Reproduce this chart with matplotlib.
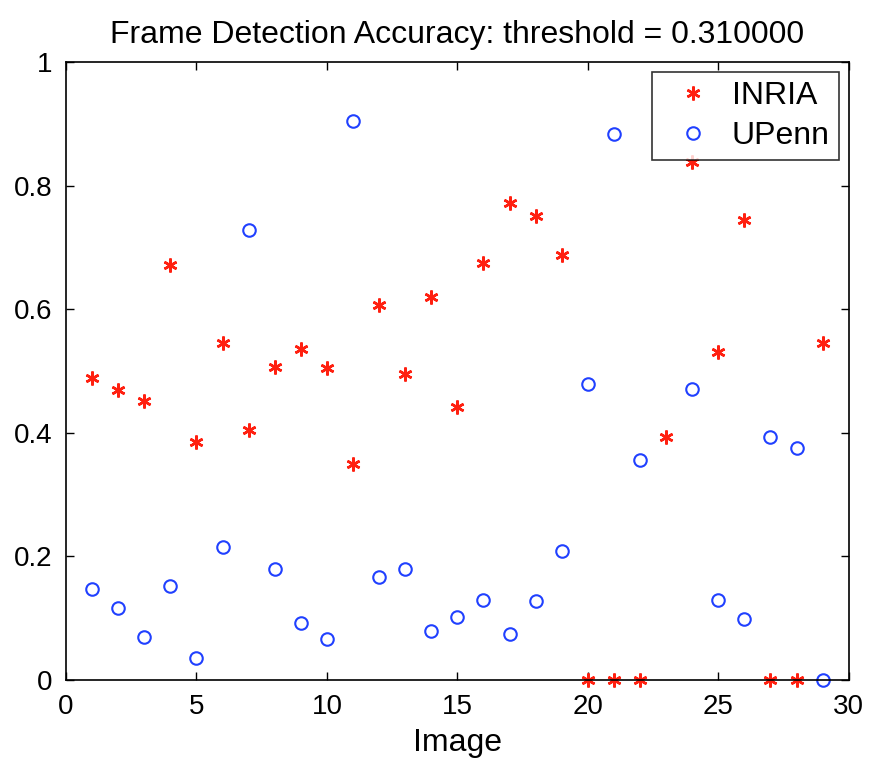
import numpy as np
import matplotlib
matplotlib.use('Agg')
import matplotlib.pyplot as plt

# image index
images = np.arange(1, 30)

# detection accuracy per image
inria = [0.489, 0.469, 0.451, 0.672, 0.385, 0.545, 0.405, 0.506, 0.536, 0.505,
         0.350, 0.607, 0.495, 0.620, 0.442, 0.675, 0.772, 0.751, 0.688, 0.0,
         0.0, 0.0, 0.393, 0.838, 0.531, 0.744, 0.0, 0.0, 0.545]
upenn = [0.147, 0.117, 0.070, 0.152, 0.036, 0.215, 0.728, 0.180, 0.092, 0.066,
         0.905, 0.167, 0.180, 0.079, 0.102, 0.129, 0.074, 0.128, 0.209, 0.479,
         0.883, 0.356, np.nan, 0.471, 0.129, 0.099, 0.393, 0.375, 0.0]

plt.rcParams['font.family'] = ['Liberation Sans', 'DejaVu Sans']

fig = plt.figure(figsize=(8.75, 7.62), dpi=100)
ax = fig.add_axes([0.0754, 0.1076, 0.8946, 0.811])

# matlab style asterisk: 6-armed line star
ax.plot(images, inria, linestyle='none', marker=(6, 2, 0), color='#ff2010',
        markersize=10, markeredgewidth=1.8, label='INRIA', clip_on=False)
ax.plot(images, upenn, linestyle='none', marker='o', markerfacecolor='none',
        markeredgecolor='#2040ff', markersize=9, markeredgewidth=1.5,
        label='UPenn', clip_on=False)

ax.set_xlim(0, 30)
ax.set_ylim(0, 1)
ax.set_xticks([0, 5, 10, 15, 20, 25, 30])
ax.set_yticks([0, 0.2, 0.4, 0.6, 0.8, 1])
ax.set_yticklabels(['0', '0.2', '0.4', '0.6', '0.8', '1'])
ax.tick_params(direction='in', top=True, right=True, labelsize=20, length=6, width=1)
ax.tick_params(axis='x', pad=10)
ax.tick_params(axis='y', pad=10)
for s in ax.spines.values():
    s.set_linewidth(1.2)

ax.set_xlabel('Image', fontsize=23, labelpad=6)
ax.set_title('Frame Detection Accuracy: threshold = 0.310000', fontsize=23, pad=14)

leg = ax.legend(loc='upper right', fontsize=23, frameon=True, fancybox=False,
                edgecolor='black', borderaxespad=0.3, handletextpad=0.2,
                handlelength=2.0, labelspacing=0.3, borderpad=0.3)
leg.get_frame().set_linewidth(1.2)

fig.savefig('out.png', dpi=100)
